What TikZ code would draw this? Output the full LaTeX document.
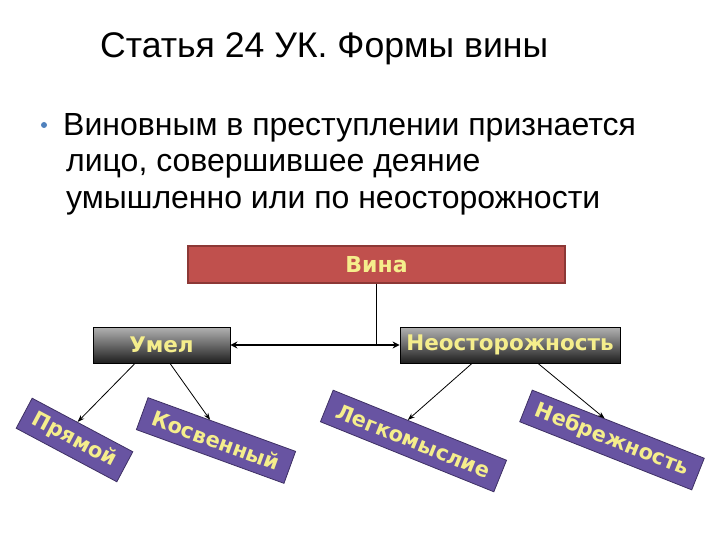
\documentclass[tikz,border=0pt]{standalone}
\usepackage{fontspec}
\setmainfont{Liberation Sans}
\newfontfamily\boxfont{DejaVu Sans}
\usetikzlibrary{arrows.meta,calc,shadings}
\definecolor{vinared}{RGB}{192,80,77}
\definecolor{vinaborder}{RGB}{140,56,54}
\definecolor{lbltext}{RGB}{245,238,140}
\definecolor{purplefill}{RGB}{104,84,162}
\definecolor{purpleborder}{RGB}{62,48,100}
\definecolor{bulletblue}{RGB}{79,129,189}
\tikzset{
  titletext/.style={anchor=base west,inner sep=0pt,font=\fontsize{35.6}{40}\selectfont},
  bodytext/.style={anchor=base west,inner sep=0pt,font=\fontsize{32}{36}\selectfont},
  vinabox/.style={draw=vinaborder,line width=1.2pt,fill=vinared,minimum width=377pt,minimum height=37pt,inner sep=0pt,
    text=lbltext,font=\boxfont\bfseries\fontsize{22}{26}\selectfont},
  greybox/.style={draw=black,line width=0.8pt,shading=axis,top color=black!30,bottom color=black!88,
    minimum height=36pt,inner sep=0pt,text=lbltext,font=\boxfont\bfseries\fontsize{21.5}{25}\selectfont},
  purplebox/.style={draw=purpleborder,line width=0.8pt,fill=purplefill,minimum height=34pt,inner sep=0pt,
    text=lbltext,font=\boxfont\bfseries\fontsize{21}{25}\selectfont},
  conn/.style={line width=0.8pt,-{Stealth[length=7pt,width=5pt]}},
  link/.style={line width=1.8pt,{Stealth[length=7pt,width=7pt]}-{Stealth[length=7pt,width=7pt]}},
}
\begin{document}
\begin{tikzpicture}[x=1pt,y=-1pt]
\useasboundingbox (0,0) rectangle (720,540);
% texts
\node[titletext] (title) at (100,58) {Статья 24 УК. Формы вины};
\node[circle,fill=bulletblue,minimum size=6pt,inner sep=0pt] (bul) at (44,125) {};
\node[bodytext] (l1) at (63,136) {Виновным в преступлении признается};
\node[bodytext] (l2) at (66,172) {лицо, совершившее деяние};
\node[bodytext] (l3) at (66,208) {умышленно или по неосторожности};
% boxes
\node[vinabox] (vina) at (376.5,264.5) {Вина};
\node[greybox,minimum width=137pt] (umel) at (161.5,345) {Умел};
\node[greybox,minimum width=220pt] (neo) at (510,345) {Неосторожность};
\node[purplebox,minimum width=114pt,rotate=-28] (pr) at (74.5,440) {Прямой};
\node[purplebox,minimum width=157pt,rotate=-20] (kos) at (216,440.5) {Косвенный};
\node[purplebox,minimum width=187pt,rotate=-22] (leg) at (413.5,441) {Легкомыслие};
\node[purplebox,minimum width=185pt,rotate=-21.6] (neb) at (612,440) {Небрежность};
% connectors
\coordinate (mid) at (vina.south |- umel.east);
\draw[line width=0.8pt] (vina.south) -- (mid);
\draw[link] (umel.east) -- (neo.west);
\draw[conn] ([xshift=-26.5pt]umel.south) -- ($(pr.north west)!0.45!(pr.north east)$);
\draw[conn] ([xshift=8.5pt]umel.south) -- ($(kos.north west)!0.42!(kos.north east)$);
\draw[conn] ([xshift=-38pt]neo.south) -- ($(leg.north west)!0.43!(leg.north east)$);
\draw[conn] ([xshift=28pt]neo.south) -- ($(neb.north west)!0.42!(neb.north east)$);
\end{tikzpicture}
\end{document}
